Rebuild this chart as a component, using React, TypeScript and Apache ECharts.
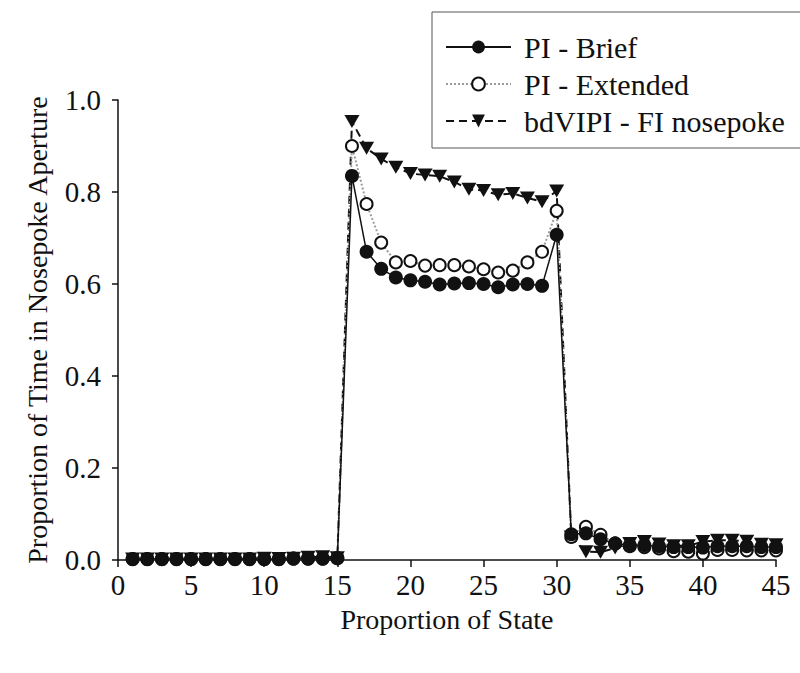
import React, { useEffect, useRef } from "react";
import * as echarts from "echarts";

const states: number[] = Array.from({ length: 45 }, (_, i) => i + 1);

const piBrief: number[] = [
  0.002, 0.002, 0.002, 0.002, 0.002, 0.002, 0.002, 0.002, 0.002, 0.002, 0.002, 0.003, 0.003, 0.003, 0.004,
  0.835, 0.67, 0.633, 0.614, 0.608, 0.605, 0.599, 0.601, 0.602, 0.6, 0.593, 0.599, 0.6, 0.596, 0.707,
  0.056, 0.058, 0.045, 0.036, 0.032, 0.032, 0.03, 0.028, 0.028, 0.027, 0.03, 0.03, 0.03, 0.028, 0.028,
];

const piExtended: number[] = [
  0.002, 0.002, 0.002, 0.002, 0.002, 0.002, 0.002, 0.002, 0.002, 0.002, 0.002, 0.003, 0.003, 0.003, 0.004,
  0.9, 0.774, 0.69, 0.647, 0.65, 0.64, 0.641, 0.641, 0.638, 0.632, 0.625, 0.629, 0.647, 0.67, 0.759,
  0.05, 0.072, 0.055, 0.036, 0.03, 0.028, 0.025, 0.019, 0.018, 0.014, 0.022, 0.022, 0.021, 0.021, 0.021,
];

const bdVipi: number[] = [
  0.002, 0.002, 0.002, 0.002, 0.002, 0.002, 0.002, 0.002, 0.002, 0.004, 0.003, 0.004, 0.006, 0.007, 0.005,
  0.953, 0.895, 0.872, 0.854, 0.84, 0.837, 0.834, 0.822, 0.806, 0.803, 0.794, 0.797, 0.787, 0.779, 0.802,
  0.05, 0.018, 0.017, 0.026, 0.036, 0.04, 0.035, 0.031, 0.031, 0.04, 0.043, 0.043, 0.041, 0.034, 0.033,
];

const seriesNames: string[] = ["PI - Brief", "PI - Extended", "bdVIPI - FI nosepoke"];

const FONT = "Liberation Serif";

const pairs = (vals: number[]) => states.map((x, i) => [x, vals[i]]);

export default function App() {
  const ref = useRef<HTMLDivElement>(null);
  useEffect(() => {
    if (!ref.current) return;
    const chart = echarts.init(ref.current, null, { renderer: "svg" });
    chart.setOption({
      animation: false,
      backgroundColor: "#ffffff",
      textStyle: { fontFamily: FONT, color: "#111" },
      grid: { left: 118, right: 24, top: 100, bottom: 113, containLabel: false },
      legend: {
        orient: "vertical",
        left: 432,
        top: 12,
        padding: [20, 22, 12, 13],
        itemGap: 7,
        itemWidth: 65,
        itemHeight: 16,
        borderColor: "#555",
        borderWidth: 1,
        textStyle: { fontFamily: FONT, fontSize: 30, color: "#111", lineHeight: 28, padding: [0, 0, 0, 8] },
        data: seriesNames,
      },
      xAxis: {
        type: "value",
        min: 0,
        max: 45,
        interval: 5,
        name: "Proportion of State",
        nameLocation: "middle",
        nameGap: 45,
        nameTextStyle: { fontFamily: FONT, fontSize: 28, color: "#111" },
        axisLine: { show: true, lineStyle: { color: "#111", width: 1.5 } },
        axisTick: { show: true, length: 7, lineStyle: { color: "#111", width: 1.5 } },
        axisLabel: { fontFamily: FONT, fontSize: 29, color: "#111", margin: 10 },
        splitLine: { show: false },
      },
      yAxis: {
        type: "value",
        min: 0,
        max: 1,
        interval: 0.2,
        name: "Proportion of Time in Nosepoke Aperture",
        nameLocation: "middle",
        nameGap: 67,
        nameTextStyle: { fontFamily: FONT, fontSize: 28, color: "#111" },
        axisLine: { show: true, lineStyle: { color: "#111", width: 1.5 } },
        axisTick: { show: true, length: 6, lineStyle: { color: "#111", width: 1.5 } },
        axisLabel: {
          fontFamily: FONT,
          fontSize: 29,
          color: "#111",
          margin: 17,
          formatter: (v: number) => v.toFixed(1),
        },
        splitLine: { show: false },
      },
      series: [
        {
          name: seriesNames[2],
          type: "line",
          z: 2,
          data: pairs(bdVipi),
          symbol: "triangle",
          symbolRotate: 180,
          symbolSize: [15, 13],
          lineStyle: { color: "#111", width: 2, type: [8, 5] },
          itemStyle: { color: "#111", borderColor: "#111", borderWidth: 0 },
        },
        {
          name: seriesNames[1],
          type: "line",
          z: 3,
          data: pairs(piExtended),
          symbol: "circle",
          symbolSize: 12,
          lineStyle: { color: "#9a9a9a", width: 2, type: "dotted" },
          itemStyle: { color: "#ffffff", borderColor: "#111", borderWidth: 2 },
        },
        {
          name: seriesNames[0],
          type: "line",
          z: 4,
          data: pairs(piBrief),
          symbol: "circle",
          symbolSize: 14,
          lineStyle: { color: "#111", width: 1.5, type: "solid" },
          itemStyle: { color: "#111", borderColor: "#111", borderWidth: 0 },
        },
      ],
    });
    return () => chart.dispose();
  }, []);
  return (
    <div
      ref={ref}
      style={{ position: "fixed", left: 0, top: 0, width: 800, height: 673, background: "#fff" }}
    />
  );
}
